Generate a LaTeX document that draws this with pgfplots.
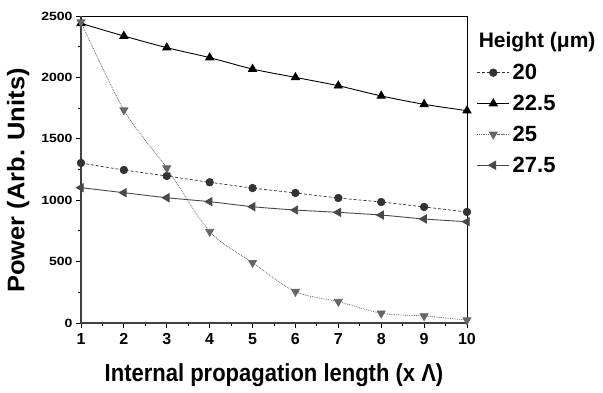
\documentclass[border=0pt]{standalone}
\usepackage{pgfplots}
\pgfplotsset{compat=1.18}
\usepackage{fontspec}
\setmainfont{Liberation Sans}
\definecolor{cA}{HTML}{333333}
\definecolor{cB}{HTML}{000000}
\definecolor{cC}{HTML}{666666}
\definecolor{cD}{HTML}{484848}
\begin{document}
\begin{tikzpicture}
\useasboundingbox (-81pt,-70pt) rectangle (522pt,323pt);
\begin{axis}[
  at={(0pt,0pt)}, anchor=south west,
  scale only axis, width=386pt, height=307pt,
  xmin=1, xmax=10, ymin=0, ymax=2500,
  xtick={1,...,10}, ytick={0,500,...,2500},
  minor x tick num=1, minor y tick num=1,
  tick align=outside, tick pos=left,
  major tick length=5pt, minor tick length=3pt,
  every tick/.style={black, line width=0.9pt},
  /pgf/number format/assume math mode=true,
  /pgf/number format/1000 sep={},
  yticklabel style={font=\fontsize{14}{14}\selectfont\bfseries, yscale=0.85},
  xticklabel style={font=\fontsize{16}{16}\selectfont\bfseries, yshift=-2pt},
  xlabel={\scalebox{1}[1.12]{Internal propagation length (x Λ)}},
  ylabel={\scalebox{1.06}[1]{Power (Arb. Units)}},
  xlabel style={font=\fontsize{22}{22}\selectfont\bfseries, yshift=-12pt},
  ylabel style={font=\fontsize{24}{24}\selectfont\bfseries, yshift=5pt, xshift=-11pt},
  axis line style={line width=0.6pt},
  legend style={draw=none, fill=none, at={(1.025,0.85)}, anchor=north west,
    font=\fontsize{22}{22}\selectfont\bfseries, row sep=14pt, inner xsep=0pt,
    nodes={inner xsep=3pt, inner ysep=0pt}},
  legend cell align=left,
  legend image code/.code={\draw[mark repeat=2,mark phase=2] plot coordinates {(0pt,0pt) (16pt,0pt) (32pt,0pt)};},
  clip=false,
]
\addplot[cA, densely dashed, line width=0.7pt, smooth, mark=*, mark size=3.8pt, mark options={solid}] coordinates {
(1,1303) (2,1246) (3,1197) (4,1146) (5,1099) (6,1059) (7,1018) (8,985) (9,945) (10,904)};
\addlegendentry{20}
\addplot[cB, solid, smooth, line width=0.9pt, mark=triangle*, mark size=4.6pt] coordinates {
(1,2440) (2,2337) (3,2242) (4,2161) (5,2068) (6,2000) (7,1932) (8,1849) (9,1781) (10,1729)};
\addlegendentry{22.5}
\addplot[cC, densely dotted, line width=0.8pt, smooth, mark=triangle*, mark size=4.6pt, mark options={solid, rotate=180}] coordinates {
(1,2450) (2,1734) (3,1262) (4,744) (5,491) (6,255) (7,174) (8,79) (9,57) (10,24)};
\addlegendentry{25}
\addplot[cD, solid, smooth, line width=0.9pt, mark=triangle*, mark size=4.6pt, mark options={rotate=90}] coordinates {
(1,1102) (2,1061) (3,1020) (4,988) (5,947) (6,920) (7,901) (8,879) (9,847) (10,825)};
\addlegendentry{27.5}
\draw[line width=1.6pt, black!75] (rel axis cs:0,1) -- (rel axis cs:0,0) -- (rel axis cs:1,0);
\node[anchor=west, font=\fontsize{21}{21}\selectfont\bfseries, inner sep=0pt] at (rel axis cs:1.03,0.915) {Height (μm)};
\end{axis}
\end{tikzpicture}
\end{document}
